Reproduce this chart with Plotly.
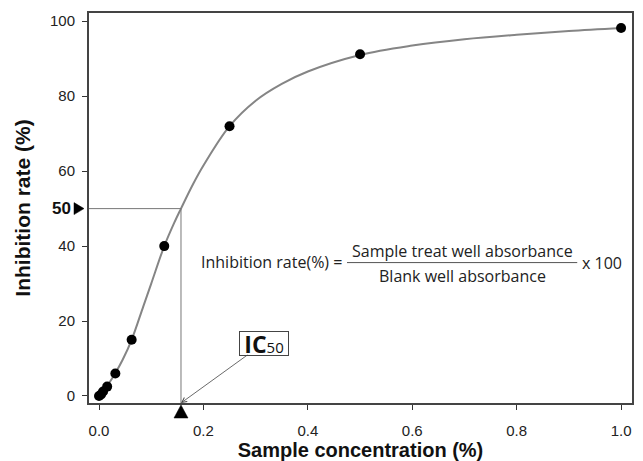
import plotly.graph_objects as go

# Measured data points
conc = [0.0, 0.0039, 0.0078, 0.0156, 0.03125, 0.0625, 0.125, 0.25, 0.5, 1.0]
inhibition = [0.0, 0.4, 1.2, 2.5, 6.0, 15.0, 40.0, 72.0, 91.2, 98.2]

# Fitted curve
curve_x = [0.0, 0.01, 0.02, 0.03, 0.045, 0.0625, 0.085, 0.1, 0.125, 0.145, 0.157,
           0.18, 0.2, 0.25, 0.3, 0.35, 0.4, 0.5, 0.6, 0.7, 0.8, 0.9, 1.0]
curve_y = [0.0, 1.6, 3.6, 5.8, 9.6, 15.0, 24.0, 30.0, 40.0, 46.5, 50.0,
           56.5, 61.5, 72.0, 78.8, 83.3, 86.6, 91.0, 93.5, 95.2, 96.4, 97.4, 98.2]

ic50 = 0.157
ic50_level = 50

x_ticks = [0.0, 0.2, 0.4, 0.6, 0.8, 1.0]
y_ticks = [0, 20, 40, 60, 80, 100]
x_range = [-0.0192, 1.0209]
y_range = [-1.87, 102.2]

arial = "Arial, Liberation Sans, sans-serif"
tick_font = dict(family=arial, size=15, color="#222")
formula_font = dict(family="Open Sans, Noto Sans, sans-serif", size=16, color="#222")

fig = go.Figure()

fig.add_trace(go.Scatter(x=curve_x, y=curve_y, mode="lines", line_shape="spline",
                         line=dict(color="#858585", width=2), hoverinfo="skip",
                         showlegend=False))
fig.add_trace(go.Scatter(x=conc, y=inhibition, mode="markers",
                         marker=dict(color="black", size=10), showlegend=False))

# IC50 guide lines
fig.add_shape(type="line", x0=x_range[0], x1=ic50, y0=ic50_level, y1=ic50_level,
              line=dict(color="#777", width=1))
fig.add_shape(type="line", x0=ic50, x1=ic50, y0=y_range[0], y1=ic50_level,
              line=dict(color="#777", width=1))

# Triangle pointers outside the axes (paper anchored, pixel sized)
ic50_paper_x = (ic50 - x_range[0]) / (x_range[1] - x_range[0])
level_paper_y = (ic50_level - y_range[0]) / (y_range[1] - y_range[0])
fig.add_shape(type="path", xref="paper", yref="paper",
              xsizemode="pixel", ysizemode="pixel",
              xanchor=ic50_paper_x, yanchor=0,
              path="M-7,-15 L7,-15 L0,-2 Z",
              fillcolor="black", line=dict(color="black", width=0.5))
fig.add_shape(type="path", xref="paper", yref="paper",
              xsizemode="pixel", ysizemode="pixel",
              xanchor=0, yanchor=level_paper_y,
              path="M-15,-6 L-15,6 L-5,0 Z",
              fillcolor="black", line=dict(color="black", width=0.5))

annotations = [
    dict(x=0, xref="paper", y=ic50_level, yref="y", text="<b>50</b>", showarrow=False,
         xanchor="right", xshift=-16, font=dict(family=arial, size=17, color="#111")),
    dict(x=ic50, y=y_range[0], xref="x", yref="y",
         text="<b>IC</b><span style='font-size:15px'>50</span>", showarrow=True,
         ax=83, ay=-60, arrowhead=5, arrowsize=1.2, arrowwidth=0.8, arrowcolor="#444",
         width=48, height=23,
         bordercolor="#444", borderwidth=1, borderpad=0, bgcolor="white",
         font=dict(family="Open Sans, Noto Sans, sans-serif", size=23, color="#111")),
    dict(x=0.469, y=35.7, text="Inhibition rate(%) =", showarrow=False, xanchor="right",
         font=formula_font),
    dict(x=0.6955, y=38.8, text="Sample treat well absorbance", showarrow=False,
         font=formula_font),
    dict(x=0.6955, y=32.0, text="Blank well absorbance", showarrow=False,
         font=formula_font),
    dict(x=0.9217, y=35.5, text="x 100", showarrow=False, xanchor="left",
         font=formula_font),
]

fig.add_shape(type="line", x0=0.475, x1=0.916, y0=35.6, y1=35.6,
              line=dict(color="#555", width=1))

fig.update_layout(
    width=643, height=461,
    margin=dict(l=89, r=11, t=13, b=58),
    paper_bgcolor="white", plot_bgcolor="white",
    annotations=annotations,
    showlegend=False,
)

fig.update_xaxes(range=x_range, tickvals=x_ticks, tickformat=".1f", automargin=False,
                 showgrid=False, zeroline=False, showline=True, mirror=True,
                 linecolor="#444", linewidth=2, ticks="outside", ticklen=5,
                 tickcolor="#333", tickfont=tick_font, ticklabelstandoff=8,
                 title=dict(text="<b>Sample concentration (%)</b>", standoff=5,
                            font=dict(family=arial, size=20, color="#111")))
fig.update_yaxes(range=y_range, tickvals=y_ticks, automargin=False,
                 showgrid=False, zeroline=False, showline=True, mirror=True,
                 linecolor="#444", linewidth=2, ticks="outside", ticklen=5,
                 tickcolor="#333", tickfont=tick_font, ticklabelstandoff=4,
                 title=dict(text="<b>Inhibition rate (%)</b>", standoff=14,
                            font=dict(family=arial, size=21, color="#111")))

fig.write_html("out.html", config={"displayModeBar": False},
               post_script="document.body.style.margin='0';document.body.style.overflow='hidden';")
